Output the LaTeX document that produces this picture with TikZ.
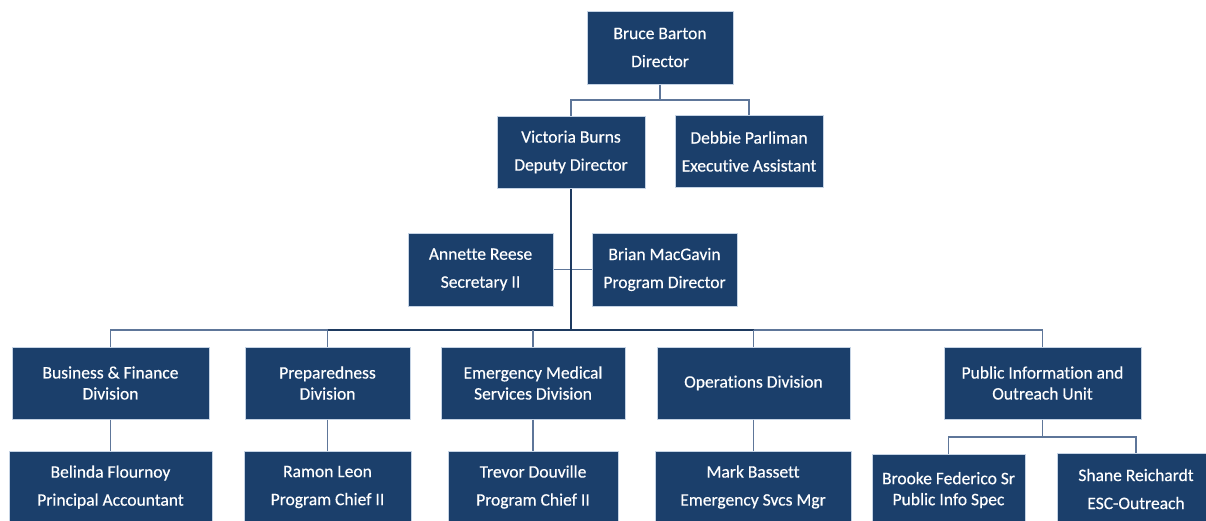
\documentclass[tikz,border=0pt]{standalone}
\usepackage{fontspec}
\setmainfont{Carlito}[Ligatures=NoCommon, FakeBold=0.4]
\definecolor{boxblue}{HTML}{1B3F6B}
\definecolor{boxedge}{HTML}{C5D3E4}
\definecolor{linkblue}{HTML}{5E7699}
\definecolor{trunkblue}{HTML}{1E3A60}
\tikzset{
  box/.style={draw=boxedge, line width=1pt, fill=boxblue, text=white,
    align=center, inner sep=0pt, font=\fontsize{17.5}{28}\selectfont},
  tight/.style={font=\fontsize{17.5}{21}\selectfont},
  link/.style={draw=linkblue, line width=1.8pt},
  trunk/.style={draw=trunkblue, line width=2.4pt}
}
\begin{document}
\begin{tikzpicture}[x=1pt,y=-1pt]
\useasboundingbox (0,0) rectangle (1206,520);
\clip (0,0) rectangle (1206,520);
\fill[white] (0,0) rectangle (1206,520);

% junction points of the connectors
\coordinate (top) at (660,100);
\coordinate (bus) at (571,330);
\coordinate (pij) at (1042.5,437);

% connectors (drawn first, boxes on top)
\draw[link] (660,84) -- (top);
\draw[link] (571,116) |- (top) -| (749,116);
\draw[link] (553,269.5) -- (592,269.5);
\draw[link] (110.5,347) |- (bus);
\draw[link] (1042.5,347) |- (bus);
\draw[trunk] (327.5,330) -- (753.5,330);
\draw[link] (327.5,347) -- (327.5,330);
\draw[link] (533,347) -- (533,330);
\draw[link] (753.5,347) -- (753.5,330);
\draw[trunk] (571,188) -- (bus);

% top level
\node[box, minimum width=146pt, minimum height=73pt] (bruce) at (660,47.5)
  {Bruce Barton\\Director};
\node[box, minimum width=148pt, minimum height=72pt] (victoria) at (571,152)
  {Victoria Burns\\Deputy Director};
\node[box, minimum width=148pt, minimum height=72pt] (debbie) at (749,151.5)
  {Debbie Parliman\\Executive Assistant};
\node[box, minimum width=145pt, minimum height=73pt] (annette) at (480.5,269.5)
  {Annette Reese\\Secretary II};
\node[box, minimum width=145pt, minimum height=73pt] (brian) at (664.5,269.5)
  {Brian MacGavin\\Program Director};

% divisions
\node[box, tight, minimum width=197pt, minimum height=72pt] (busfin) at (110.5,383)
  {Business \& Finance\\Division};
\node[box, tight, minimum width=165pt, minimum height=72pt] (prep) at (327.5,383)
  {Preparedness\\Division};
\node[box, tight, minimum width=184pt, minimum height=72pt] (ems) at (533,383)
  {Emergency Medical\\Services Division};
\node[box, tight, minimum width=193pt, minimum height=72pt] (ops) at (753.5,383)
  {Operations Division};
\node[box, tight, minimum width=197pt, minimum height=72pt] (pio) at (1042.5,383)
  {Public Information and\\Outreach Unit};

% division heads
\node[box, minimum width=203pt, minimum height=72pt] (belinda) at (110.5,487)
  {Belinda Flournoy\\Principal Accountant};
\node[box, minimum width=167pt, minimum height=72pt] (ramon) at (327.5,487)
  {Ramon Leon\\Program Chief II};
\node[box, minimum width=170pt, minimum height=72pt] (trevor) at (533,487)
  {Trevor Douville\\Program Chief II};
\node[box, minimum width=196pt, minimum height=72pt] (mark) at (753,487)
  {Mark Bassett\\Emergency Svcs Mgr};
\node[box, tight, minimum width=153pt, minimum height=72pt] (brooke) at (948.5,490)
  {Brooke Federico Sr\\Public Info Spec};
\node[box, minimum width=158pt, minimum height=72pt] (shane) at (1136,489)
  {Shane Reichardt\\ESC-Outreach};

% links from divisions to their heads
\draw[link] (busfin.south) -- (busfin.south |- belinda.north);
\draw[link] (prep.south) -- (prep.south |- ramon.north);
\draw[link] (ems.south) -- (ems.south |- trevor.north);
\draw[link] (ops.south) -- (ops.south |- mark.north);
\draw[link] (pio.south) -- (pij);
\draw[link] (brooke.north) |- (pij) -| (shane.north);
\end{tikzpicture}
\end{document}
